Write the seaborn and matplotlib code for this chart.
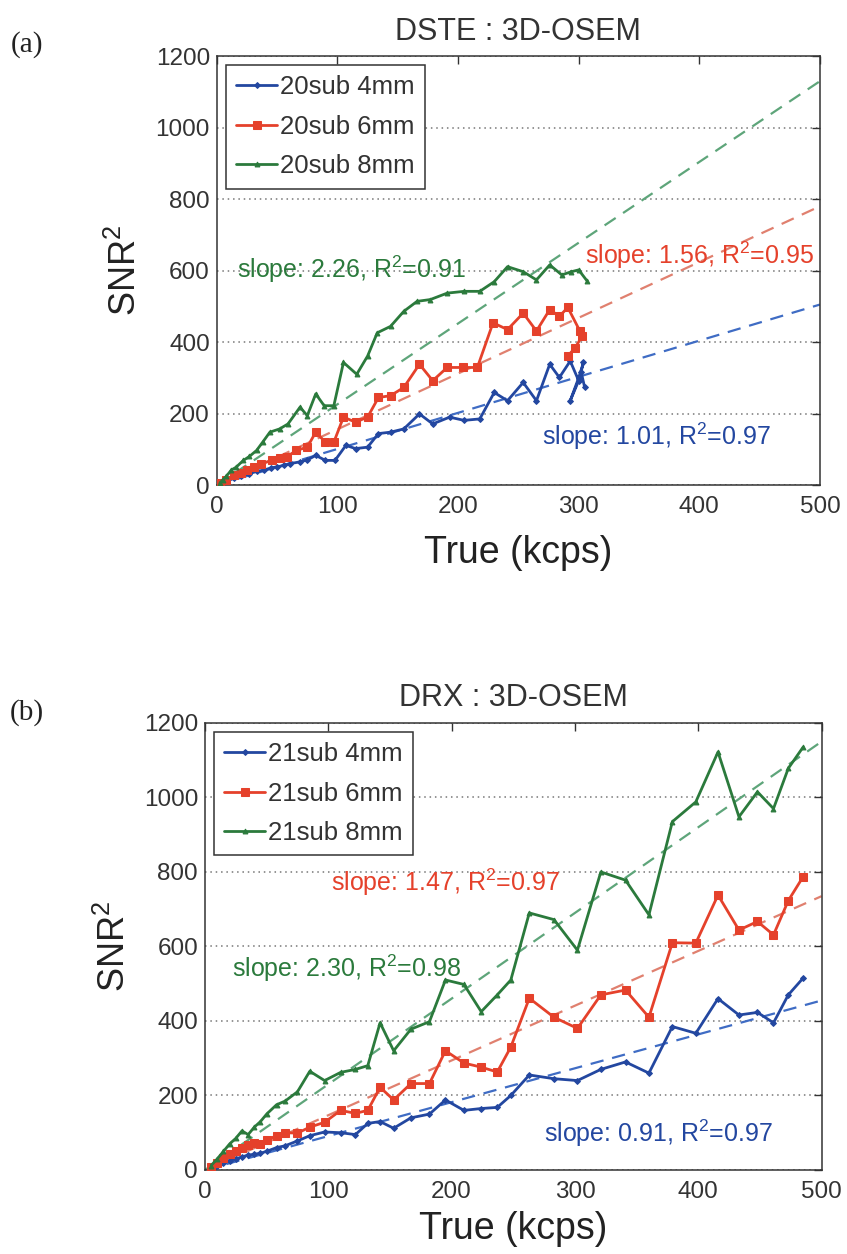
import numpy as np
import pandas as pd
import matplotlib
matplotlib.use("Agg")
import matplotlib.pyplot as plt
import seaborn as sns

# ---------------- data: panel (a) DSTE ----------------
a_x_4mm = [2.5, 8, 14, 20, 27, 33, 39, 45, 50, 56, 61, 69, 75, 82, 90, 98, 107, 115, 125, 134, 144, 155,
           168, 179, 193, 205, 218, 230, 241, 254, 265, 276, 284, 293, 300, 293, 300, 304, 302, 305]
a_y_4mm = [3, 10, 19, 25, 32, 38, 42, 48, 51, 55, 60, 65, 70, 83, 69, 69, 111, 102, 106, 144, 148, 157,
           199, 171, 190, 181, 185, 259, 236, 287, 236, 338, 301, 347, 292, 236, 300, 343, 317, 273]
a_x_6mm = [2.5, 8, 14, 20, 25, 31, 37, 46, 52, 58, 66, 75, 82, 90, 97, 105, 115, 125, 134, 144, 155, 168,
           179, 191, 204, 216, 229, 241, 254, 265, 276, 284, 291, 301, 303, 297, 291]
a_y_6mm = [5, 15, 28, 35, 42, 50, 60, 69, 75, 79, 97, 106, 148, 120, 120, 190, 176, 190, 245, 250, 273, 338,
           292, 329, 329, 329, 454, 435, 481, 431, 491, 472, 497, 431, 417, 384, 361]
a_x_8mm = [2.5, 5, 8, 12, 16, 22, 27, 33, 38, 44, 52, 59, 69, 75, 82, 89, 97, 105, 116, 125, 133, 144, 155,
           166, 177, 191, 205, 218, 230, 241, 254, 265, 276, 286, 294, 300, 307]
a_y_8mm = [5, 15, 25, 42, 50, 69, 80, 97, 120, 148, 157, 171, 218, 194, 255, 222, 222, 343, 310, 361, 426,
           444, 486, 514, 519, 537, 542, 542, 569, 611, 597, 574, 616, 588, 597, 602, 571]
a_labels = ["20sub 4mm", "20sub 6mm", "20sub 8mm"]
a_slopes = [1.01, 1.56, 2.26]
a_r2 = [0.97, 0.95, 0.91]

# ---------------- data: panel (b) DRX ----------------
b_x = [5, 10, 15, 20, 25, 30, 35, 40, 45, 50, 58, 65, 75, 85, 97, 110, 122, 132, 142, 153, 167, 182,
       195, 210, 224, 237, 248, 263, 283, 302, 321, 341, 360, 379, 398, 416, 433, 448, 461, 473, 485]
b_y_4mm = [5, 12, 18, 25, 30, 35, 40, 42, 45, 50, 60, 65, 78, 92, 102, 100, 95, 125, 130, 112, 140, 150,
           188, 160, 165, 168, 200, 255, 245, 240, 270, 290, 260, 385, 367, 460, 416, 423, 395, 470, 515]
b_y_6mm = [8, 20, 32, 42, 52, 58, 66, 72, 70, 80, 92, 100, 99, 115, 128, 160, 152, 160, 222, 188, 232, 232,
           320, 287, 276, 263, 330, 461, 410, 380, 470, 483, 410, 610, 609, 738, 644, 667, 631, 723, 787]
b_y_8mm = [12, 30, 50, 70, 85, 105, 95, 115, 130, 150, 175, 185, 210, 265, 240, 262, 270, 280, 395, 320, 378, 398,
           510, 498, 425, 470, 510, 690, 672, 590, 800, 778, 685, 935, 988, 1122, 948, 1015, 970, 1078, 1135]
b_labels = ["21sub 4mm", "21sub 6mm", "21sub 8mm"]
b_slopes = [0.91, 1.47, 2.30]
b_r2 = [0.97, 0.97, 0.98]

# ---------------- style ----------------
sns.set_theme(style="white")
plt.rcParams['font.family'] = ['Liberation Sans', 'DejaVu Sans']
plt.rcParams['mathtext.fontset'] = 'custom'
plt.rcParams['mathtext.rm'] = 'Liberation Sans'
plt.rcParams['mathtext.it'] = 'Liberation Sans'

line_colors = ["#2347a0", "#e5412b", "#2b7a3c"]
fit_colors = ["#3f6cc4", "#e0806f", "#5ea57a"]
markers = ["D", "s", "^"]
msizes = [3.0, 5.5, 3.5]
text_color = "#333333"

fig = plt.figure(figsize=(8.47, 12.54), dpi=100)
ax_a = fig.add_axes([0.256, 0.6132, 0.712, 0.342])
ax_b = fig.add_axes([0.242, 0.067, 0.728, 0.3565])


def style_axes(ax, title, xlabelpad):
    ax.set_xlim(0, 500)
    ax.set_ylim(0, 1200)
    ax.set_xticks([0, 100, 200, 300, 400, 500])
    ax.set_yticks([0, 200, 400, 600, 800, 1000, 1200])
    ax.tick_params(direction='in', top=True, right=True, length=6, width=1,
                   labelsize=17.5, colors=text_color, pad=5)
    ax.tick_params(axis='x', pad=8)
    for lab in ax.get_xticklabels() + ax.get_yticklabels():
        lab.set_color(text_color)
    ax.yaxis.grid(True, linestyle=(0, (1, 2.5)), color="#777777", linewidth=1.1)
    ax.xaxis.grid(False)
    for sp in ax.spines.values():
        sp.set_color("#333333")
        sp.set_linewidth(1.1)
    ax.set_title(title, fontsize=22, color=text_color, pad=12)
    ax.set_xlabel("True (kcps)", fontsize=27, color="#222222", labelpad=xlabelpad)
    ax.set_ylabel("SNR$^2$", fontsize=26, color="#222222", labelpad=8)
    ax.set_axisbelow(True)


def draw(ax, xs, ys, labels, slopes):
    fit_x = np.array([0, 500])
    for i in range(3):
        sns.lineplot(x=fit_x, y=slopes[i] * fit_x, ax=ax, color=fit_colors[i],
                     linestyle=(0, (6, 4)), linewidth=1.6, legend=False, zorder=2)
    for i in range(3):
        sns.lineplot(x=xs[i], y=ys[i], ax=ax, sort=False, estimator=None,
                     color=line_colors[i], marker=markers[i], markersize=msizes[i],
                     markeredgecolor=line_colors[i], linewidth=2.0, label=labels[i], zorder=3)
    leg = ax.legend(loc="upper left", fontsize=18.5, frameon=True, fancybox=False,
                    borderaxespad=0.35, handlelength=1.6, handletextpad=0.1,
                    labelspacing=0.6, borderpad=0.4)
    leg.get_frame().set_edgecolor("#333333")
    leg.get_frame().set_linewidth(1.1)
    leg.get_frame().set_alpha(1)
    for t in leg.get_texts():
        t.set_color(text_color)


draw(ax_a, [a_x_4mm, a_x_6mm, a_x_8mm], [a_y_4mm, a_y_6mm, a_y_8mm], a_labels, a_slopes)
style_axes(ax_a, "DSTE : 3D-OSEM", 12)
draw(ax_b, [b_x, b_x, b_x], [b_y_4mm, b_y_6mm, b_y_8mm], b_labels, b_slopes)
style_axes(ax_b, "DRX : 3D-OSEM", 6)


def ann(ax, x, y, i, slopes, r2):
    ax.text(x, y, f"slope: {slopes[i]:.2f}, R$^2$={r2[i]:.2f}", fontsize=18,
            color=line_colors[i], va="center", ha="left", zorder=4)


ann(ax_a, 17, 603, 2, a_slopes, a_r2)
ann(ax_a, 305, 644, 1, a_slopes, a_r2)
ann(ax_a, 270, 136, 0, a_slopes, a_r2)
ann(ax_b, 102, 773, 1, b_slopes, b_r2)
ann(ax_b, 22, 542, 2, b_slopes, b_r2)
ann(ax_b, 275, 99, 0, b_slopes, b_r2)

fig.text(27 / 847, 1 - 45 / 1254, "(a)", fontsize=21, family="Liberation Serif",
         color="#222222", ha="center", va="center")
fig.text(27 / 847, 1 - 713 / 1254, "(b)", fontsize=21, family="Liberation Serif",
         color="#222222", ha="center", va="center")

fig.savefig("out.png", dpi=100, facecolor="white")
